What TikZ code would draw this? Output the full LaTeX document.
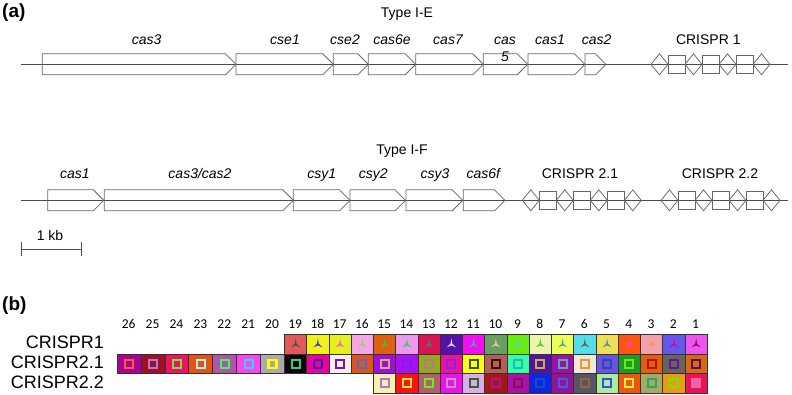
\documentclass[tikz,border=0pt]{standalone}
\usepackage{fontspec}
\setmainfont{Liberation Sans}
\newfontfamily\calib{Carlito}
\begin{document}
\begin{tikzpicture}[x=1pt,y=-1pt,
  gene/.style={draw=black!60, line width=0.75pt},
  axis/.style={draw=black!70, line width=0.75pt},
  lab/.style={font=\fontsize{14}{14}\selectfont\itshape, inner sep=0, anchor=base},
  ttl/.style={font=\fontsize{14}{14}\selectfont, inner sep=0, anchor=base},
  panel/.style={font=\fontsize{19}{19}\selectfont\bfseries, inner sep=0, anchor=base west},
  num/.style={font=\calib\fontsize{13.5}{13.5}\selectfont, inner sep=0, anchor=base},
  rowlab/.style={font=\fontsize{18}{18}\selectfont, inner sep=0, anchor=base east},
  cell/.style={draw=black!80, line width=1pt, minimum height=19.5pt, inner sep=0, anchor=north west}]
\useasboundingbox (0,0) rectangle (792,394);
\newcommand\genebox[3]{\draw[gene] (#1,#3-10.5) -- (#2-10.5,#3-10.5) -- (#2,#3) -- (#2-10.5,#3+10.5) -- (#1,#3+10.5) -- cycle;}
\newcommand\crarray[2]{%
  \foreach \i in {0,2,4,6}{\draw[gene] (#1+\i*17,#2) -- (#1+\i*17+8.5,#2-10.5) -- (#1+\i*17+17,#2) -- (#1+\i*17+8.5,#2+10.5) -- cycle;}
  \foreach \i in {1,3,5}{\draw[gene] (#1+\i*17,#2-9) rectangle (#1+\i*17+17,#2+9);}}

% ---------- panel (a) ----------
\node[panel] (pa) at (2,17) {(a)};
\node[ttl] (tIE) at (407,17.5) {Type I-E};
\coordinate (l1a) at (21,64.3);
\coordinate (l1b) at (788,64.3);
\draw[axis] (l1a) -- (l1b);
\genebox{42.3}{236}{64.3}
\genebox{236}{333.3}{64.3}
\genebox{333.3}{368.3}{64.3}
\genebox{368.3}{415.7}{64.3}
\genebox{415.7}{483.3}{64.3}
\genebox{483.3}{527.7}{64.3}
\genebox{528}{585}{64.3}
\genebox{585}{606}{64.3}
\crarray{651}{64.3}
\node[lab] (g1) at (146.7,44.5) {cas3};
\node[lab] (g2) at (285,44.5) {cse1};
\node[lab] (g3) at (345,44.5) {cse2};
\node[lab] (g4) at (392,44.5) {cas6e};
\node[lab] (g5) at (448,44.5) {cas7};
\node[lab] (g6) at (505,44.5) {cas};
\node[lab] (g6b) at (505,61.7) {5};
\node[lab] (g7) at (550,44.5) {cas1};
\node[lab] (g8) at (596.7,44.5) {cas2};
\node[ttl] (cr1) at (708.3,44.5) {CRISPR 1};

\node[ttl] (tIF) at (402,154) {Type I-F};
\coordinate (l2a) at (21,200.3);
\coordinate (l2b) at (788,200.3);
\draw[axis] (l2a) -- (l2b);
\genebox{47.7}{103.8}{200.3}
\genebox{104.3}{293.3}{200.3}
\genebox{293.3}{350}{200.3}
\genebox{350}{405.5}{200.3}
\genebox{406}{462.7}{200.3}
\genebox{463.3}{505}{200.3}
\crarray{522.3}{200.3}
\crarray{661}{200.3}
\node[lab] (h1) at (75,178.5) {cas1};
\node[lab] (h2) at (200,178.5) {cas3/cas2};
\node[lab] (h3) at (321.7,178.5) {csy1};
\node[lab] (h4) at (373.3,178.5) {csy2};
\node[lab] (h5) at (435,178.5) {csy3};
\node[lab] (h6) at (483.3,178.5) {cas6f};
\node[ttl] (cr21) at (580,178.5) {CRISPR 2.1};
\node[ttl] (cr22) at (720,178.5) {CRISPR 2.2};

% scale bar
\node[ttl] (kb) at (50,240) {1 kb};
\coordinate (sb1) at (21,249.3);
\coordinate (sb2) at (81,249.3);
\draw[axis] (sb1) -- (sb2);
\draw[axis] ([yshift=-7pt]sb1) -- ([yshift=7pt]sb1);
\draw[axis] ([yshift=-7pt]sb2) -- ([yshift=7pt]sb2);

% ---------- panel (b) ----------
\node[panel] (pb) at (2,310.7) {(b)};
\node[rowlab] (rl1) at (104,348.8) {CRISPR1};
\node[rowlab] (rl2) at (104,368.5) {CRISPR2.1};
\node[rowlab] (rl3) at (104,388.3) {CRISPR2.2};

\foreach \c in {1,...,26}{
  \pgfmathsetmacro\xc{\c>19 ? 116.7+(26-\c)*23.9+11.95 : 284+(19-\c)*22.25+11.125}
  \node[num] (n\c) at (\xc,328.3) {\c};
}

% row 1: CRISPR1
\foreach \c/\bg/\fg/\sy in {19/E05A5A/5A4A4A/0,18/F2F21A/3A3ADD/0,17/E6F01E/F060D0/0,16/F4A6E8/90D850/0,15/E0600E/30CC40/0,14/EE99EE/30CC70/0,13/DD1155/338866/0,12/5511AA/E0E0F0/0,11/EE11EE/40AAB0/0,10/66A060/FFBBAA/0,9/66EE11/60CCEE/0,8/EEF5AA/40CC40/0,7/EEFF55/5599BB/0,6/55DDEE/666622/0,5/EEE055/5588BB/0,4/FF5511/EE44EE/1,3/F5A0A8/EE9944/1,2/6655EE/CC1188/0,1/EE55EE/990066/0}{
  \pgfmathsetmacro\xl{\c>19 ? 116.7+(26-\c)*23.9 : 284+(19-\c)*22.25}
  \pgfmathsetmacro\cw{\c>19 ? 23.9 : 22.25}
  \definecolor{cbg}{HTML}{\bg}\definecolor{cfg}{HTML}{\fg}
  \node[cell, fill=cbg, minimum width=\cw pt] (a\c) at (\xl,334) {};
  \ifnum\sy=1
    \fill[cfg, shift={(a\c.center)}] (0,-3.5) -- (1,-1) -- (3.5,0) -- (1,1) -- (0,3.5) -- (-1,1) -- (-3.5,0) -- (-1,-1) -- cycle;
  \else
    \fill[cfg, shift={(a\c.center)}] (0,-6) -- (0.9,-0.5) -- (4.5,3) -- (0,1.2) -- (-4.5,3) -- (-0.9,-0.5) -- cycle;
  \fi
}

% row 2: CRISPR2.1
\foreach \c/\bg/\fg in {26/AA0099/EE6622,25/A01020/AA77EE,24/EE1166/66EE33,23/E05515/AAEEEE,22/B055AA/33FF55,21/FF44EE/22DDEE,20/AAAAAA/FFFF00,19/110011/22DD55,18/EE0099/3311AA,17/F8F0E8/7711BB,16/E05511/5566DD,15/9911DD/DDAA66,14/AA11EE/7722EE,13/99AA11/AA77AA,12/EE1199/8822EE,11/FFFF11/335511,10/B06055/550011,9/33FFAA/22BBAA,8/5511AA/BBBB22,7/9911AA/55AAAA,6/F0E8DD/EE9922,5/6655DD/3344BB,4/229922/66EE11,3/E06011/BB1111,2/666655/6611AA,1/DD6611/551166}{
  \pgfmathsetmacro\xl{\c>19 ? 116.7+(26-\c)*23.9 : 284+(19-\c)*22.25}
  \pgfmathsetmacro\cw{\c>19 ? 23.9 : 22.25}
  \definecolor{cbg}{HTML}{\bg}\definecolor{cfg}{HTML}{\fg}
  \node[cell, fill=cbg, minimum width=\cw pt] (b\c) at (\xl,353.5) {};
  \draw[cfg, line width=2.2pt, shift={(b\c.center)}] (-4,-4) rectangle (4,4);
}

% row 3: CRISPR2.2
\foreach \c/\bg/\fg in {15/F8F0A8/AA77DD,14/FF1111/FFEE33,13/B06066/66EE22,12/EE11EE/BB99BB,11/DDAAEE/336622,10/B01111/8822AA,9/AA11AA/881155,8/1122EE/1155AA,7/991199/3366DD,6/555566/996633,5/AAEE99/4444EE,4/EE5511/FFEE44,3/AAA866/22AA66,2/EE9911/66EE11,1/EE1155/EE66AA}{
  \pgfmathsetmacro\xl{284+(19-\c)*22.25}
  \definecolor{cbg}{HTML}{\bg}\definecolor{cfg}{HTML}{\fg}
  \node[cell, fill=cbg, minimum width=22.25pt] (c\c) at (\xl,373) {};
  \ifnum\c=1
    \filldraw[cfg, line width=2.2pt, shift={(c\c.center)}] (-4,-4) rectangle (4,4);
  \else
    \draw[cfg, line width=2.2pt, shift={(c\c.center)}] (-4,-4) rectangle (4,4);
  \fi
}
\end{tikzpicture}
\end{document}
